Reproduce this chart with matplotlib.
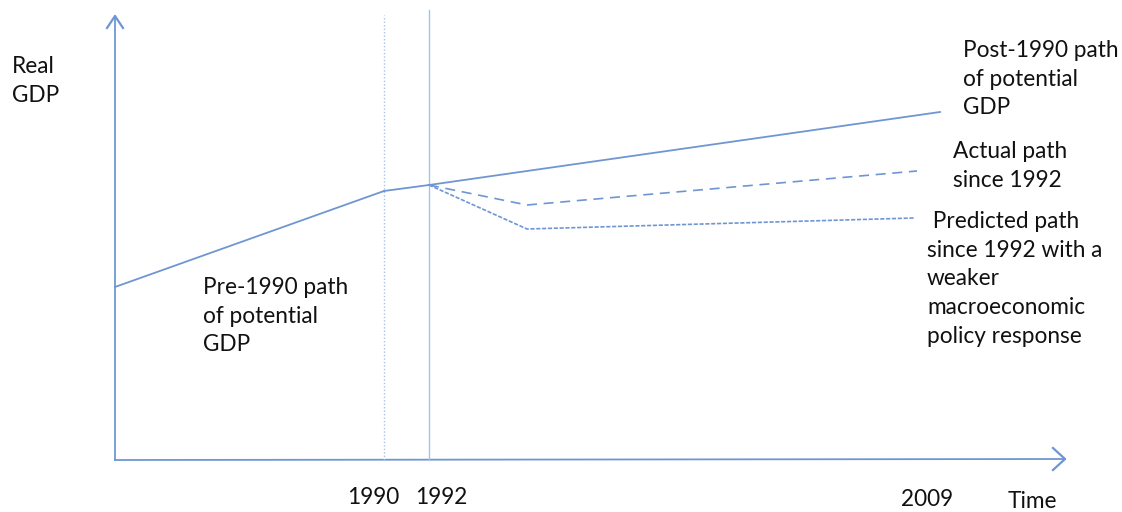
import numpy as np
import matplotlib.pyplot as plt

plt.rcParams['font.family'] = ['Lato', 'DejaVu Sans']

# schematic units: x = time position, y = real GDP level
pre_x = [0, 269]
pre_y = [173, 269]
post_x = [314, 825]
post_y = [275, 348]
actual_x = [314, 412, 802]
actual_y = [275, 255, 289]
pred_x = [314, 412, 799]
pred_y = [275, 231, 242]
year_pos = [269, 314]
year_labels = ["1990", "1992"]

line_c = "#6f96d2"
vline_c = "#a8c2e6"

fig = plt.figure(figsize=(11.22, 5.12), dpi=100)
ax = fig.add_axes([0, 0, 1, 1])
ax.set_xlim(-115, 1122 - 115)
ax.set_ylim(460 - 512, 460)
ax.axis("off")

# axes arrows
ax.plot([0, 0], [0, 444], color=line_c, lw=1.3)
ax.plot([-8, 0, 8], [432, 444, 432], color=line_c, lw=1.6)
ax.plot([0, 950], [0, 1], color=line_c, lw=1.3)
ax.plot([938, 950, 938], [12, 1, -10], color=line_c, lw=1.6)

# year markers
ax.plot([year_pos[0]] * 2, [0, 445], color=vline_c, lw=1.0, ls=(0, (1, 1.5)))
ax.plot([year_pos[1]] * 2, [0, 450], color=vline_c, lw=1.0)

ax.plot(pre_x, pre_y, color=line_c, lw=1.3)
ax.plot([pre_x[1], post_x[0]], [pre_y[1], post_y[0]], color=line_c, lw=1.3)
ax.plot(post_x, post_y, color=line_c, lw=1.3)
ax.plot(actual_x, actual_y, color=line_c, lw=1.2, ls=(0, (6, 4)))
ax.plot(pred_x, pred_y, color=line_c, lw=1.2, ls=(0, (2.5, 1)))

fs = 16.3
ls = 1.45
tc = "#111111"
ax.text(-103, 404, "Real\nGDP", fontsize=fs, color=tc, va="top", linespacing=ls)
ax.text(848, 420, "Post-1990 path\nof potential\nGDP", fontsize=fs, color=tc,
        va="top", linespacing=ls)
ax.text(838, 319, "Actual path\nsince 1992", fontsize=fs, color=tc,
        va="top", linespacing=ls)
ax.text(812, 249, " Predicted path\nsince 1992 with a\nweaker\nmacroeconomic\npolicy response",
        fontsize=fs, color=tc, va="top", linespacing=ls)
ax.text(88, 183, "Pre-1990 path\nof potential\nGDP", fontsize=fs, color=tc,
        va="top", linespacing=ls)

for p, lab in zip(year_pos, year_labels):
    ax.text(p - 11 if lab == "1990" else p + 12, -37, lab, fontsize=fs, color=tc,
            ha="center", va="center")
ax.text(812, -40, "2009", fontsize=fs, color=tc, ha="center", va="center")
ax.text(917, -42, "Time", fontsize=fs, color=tc, ha="center", va="center")

fig.savefig("out.png", dpi=100)
